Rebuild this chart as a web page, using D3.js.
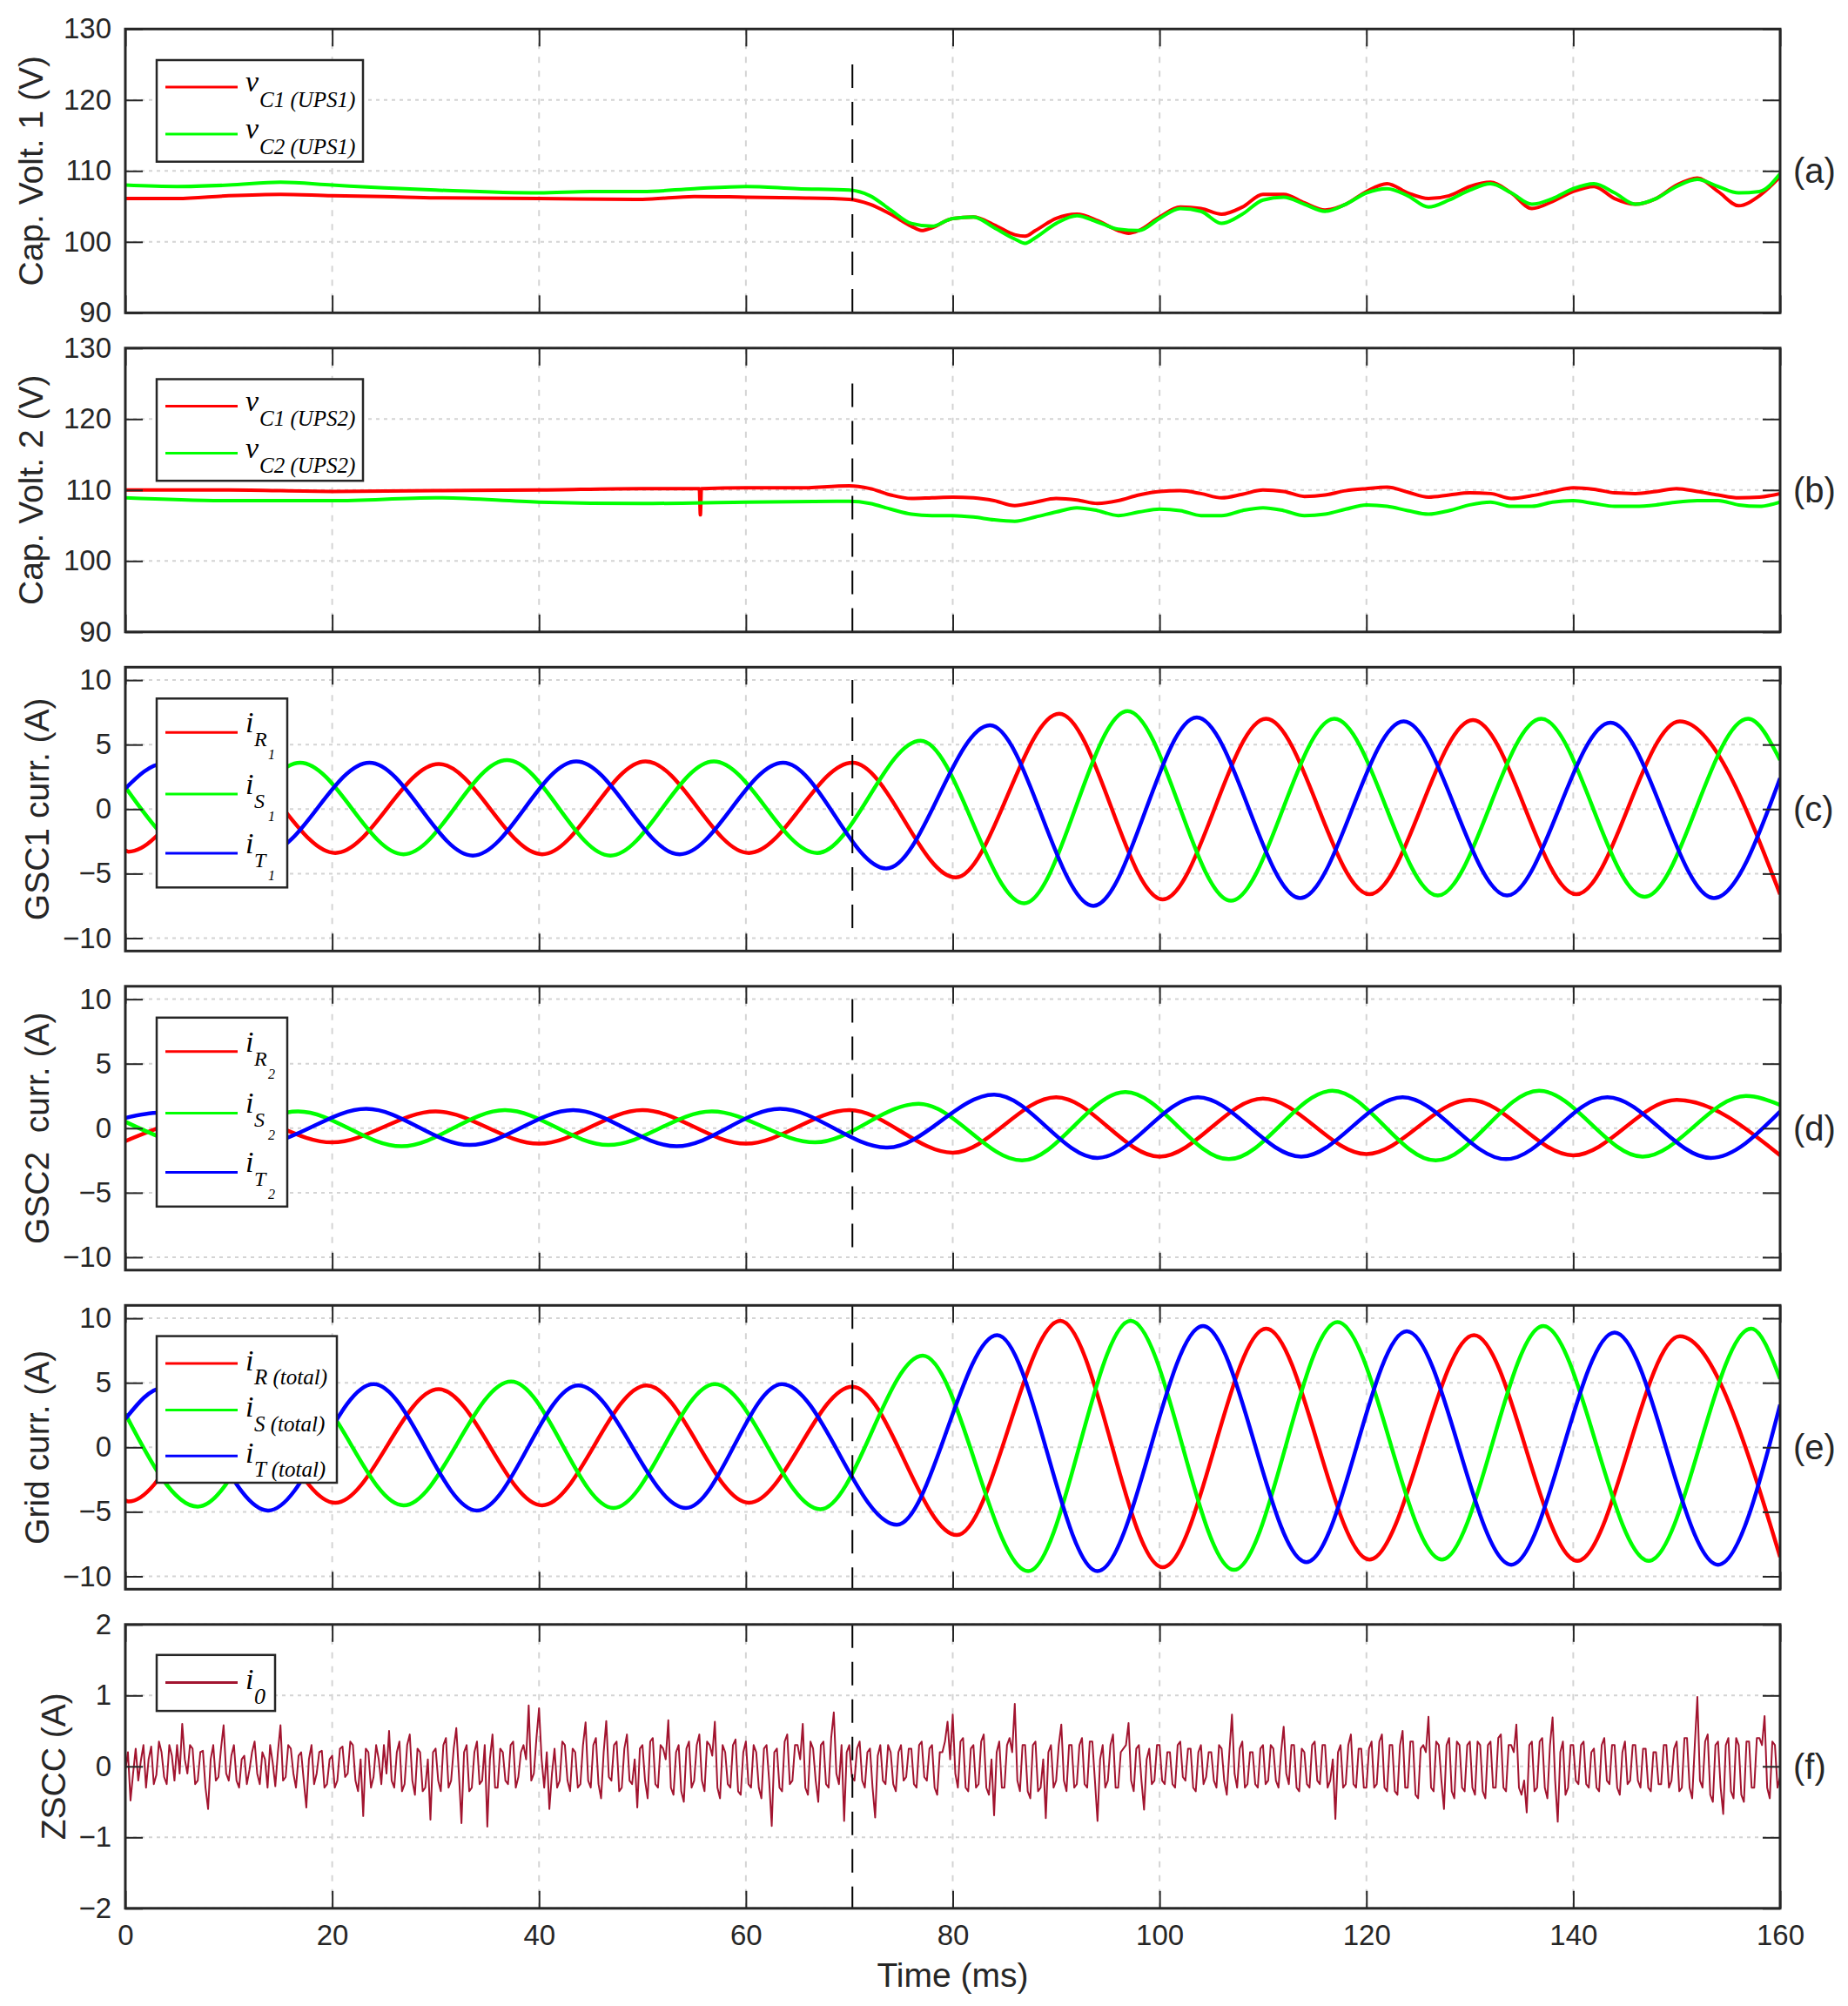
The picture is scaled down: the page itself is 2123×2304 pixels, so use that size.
<!DOCTYPE html>
<html>
<head>
<meta charset="utf-8">
<script src="https://cdn.jsdelivr.net/npm/d3@7"></script>
<style>
  body { margin: 0; background: #fff; }
  text { font-family: "Liberation Sans", Arial, Helvetica, sans-serif; fill: #262626; }
  .leg text { font-family: "Liberation Serif", "Times New Roman", serif; font-style: italic; fill: #000; }
</style>
</head>
<body>
<div id="chart"></div>
<script>
// ---- DATA ----
// time axis, ms
var timeTicks = [0, 20, 40, 60, 80, 100, 120, 140, 160]
var stepTime = 70.3   // load step -> dashed marker

// (a) capacitor voltages of UPS1, [t ms, V]
var vC1ups1 = [[0,106.1],[5,106.1],[10,106.5],[15,106.7],[20,106.5],[25,106.4],[30,106.2],[40,106.1],[50,106.0],[55,106.4],[60,106.3],[65,106.2],[70,106.0],[72,105.3],[74,103.9],[76,102.2],[77,101.6],[78,102.0],[80,103.3],[82,103.5],[84,102.4],[86,101.0],[87,100.8],[88,101.6],[90,103.3],[92,103.9],[94,103.0],[96,101.6],[97,101.2],[98,101.6],[100,103.5],[102,104.9],[104,104.7],[106,103.9],[108,104.9],[110,106.7],[112,106.7],[114,105.5],[116,104.5],[118,105.3],[120,107.1],[122,108.2],[124,106.9],[126,106.1],[128,106.5],[130,107.8],[132,108.4],[134,106.9],[136,104.7],[138,105.7],[140,107.1],[142,107.8],[144,106.1],[146,105.3],[148,106.1],[150,108.0],[152,109.0],[154,107.1],[156,105.1],[158,106.5],[160,109.2]]
var vC2ups1 = [[0,108.0],[5,107.8],[10,108.0],[15,108.4],[20,108.0],[25,107.6],[30,107.3],[40,106.9],[45,107.1],[50,107.1],[55,107.5],[60,107.8],[65,107.5],[70,107.3],[72,106.5],[74,104.5],[76,102.6],[78,102.2],[80,103.3],[82,103.5],[84,102.0],[86,100.4],[87,99.8],[88,100.6],[90,102.6],[92,103.7],[94,102.8],[96,101.8],[98,101.6],[100,103.3],[102,104.7],[104,104.3],[106,102.6],[108,103.9],[110,105.9],[112,106.3],[114,105.3],[116,104.3],[118,105.3],[120,106.9],[122,107.5],[124,106.5],[126,104.9],[128,105.9],[130,107.3],[132,108.2],[134,106.9],[136,105.3],[138,106.1],[140,107.5],[142,108.2],[144,106.9],[146,105.3],[148,106.1],[150,107.8],[152,108.8],[154,107.8],[156,106.9],[158,107.1],[160,109.6]]

// (b) capacitor voltages of UPS2, [t ms, V]
var vC1ups2 = [[0,110.0],[10,110.0],[20,109.8],[30,109.9],[40,110.0],[50,110.2],[55.5,110.2],[55.6,106.5],[55.7,110.2],[60,110.3],[65,110.3],[70,110.6],[72,110.2],[74,109.3],[76,108.8],[78,108.9],[80,109.0],[82,108.9],[84,108.5],[86,107.8],[88,108.3],[90,108.8],[92,108.6],[94,108.1],[96,108.5],[98,109.3],[100,109.8],[102,109.9],[104,109.5],[106,108.9],[108,109.4],[110,110.0],[112,109.8],[114,109.1],[116,109.3],[118,109.9],[120,110.2],[122,110.4],[124,109.7],[126,109.0],[128,109.3],[130,109.6],[132,109.5],[134,108.8],[136,109.2],[138,109.8],[140,110.3],[142,110.1],[144,109.6],[146,109.5],[148,109.8],[150,110.2],[152,109.8],[154,109.3],[156,108.9],[158,109.0],[160,109.5]]
var vC2ups2 = [[0,108.9],[10,108.5],[20,108.5],[30,108.9],[40,108.3],[50,108.1],[60,108.3],[70,108.4],[72,108.1],[74,107.3],[76,106.6],[78,106.4],[80,106.4],[82,106.2],[84,105.8],[86,105.6],[88,106.2],[90,106.9],[92,107.5],[94,107.1],[96,106.4],[98,106.9],[100,107.3],[102,107.1],[104,106.4],[106,106.4],[108,107.1],[110,107.5],[112,107.1],[114,106.4],[116,106.6],[118,107.3],[120,107.9],[122,107.7],[124,107.1],[126,106.6],[128,107.1],[130,107.9],[132,108.3],[134,107.7],[136,107.7],[138,108.3],[140,108.5],[142,108.1],[144,107.7],[146,107.7],[148,107.9],[150,108.3],[152,108.5],[154,108.5],[156,107.9],[158,107.7],[160,108.3]]

// (c) GSC1 phase currents, peaks and troughs [t ms, A]
var iR1 = [[0,-3.2],[0.3,-3.3],[10.3,3.4],[20.3,-3.4],[30.3,3.5],[40.3,-3.5],[50.3,3.7],[60.3,-3.4],[70.3,3.6],[80.3,-5.3],[90.3,7.4],[100.3,-7.0],[110.3,7.0],[120.3,-6.6],[130.3,6.9],[140.3,-6.6],[150.3,6.8],[160,-6.6]]
var iS1 = [[0,1.7],[6.9,-3.5],[16.9,3.6],[26.9,-3.5],[36.9,3.8],[46.9,-3.6],[56.9,3.7],[66.9,-3.4],[76.9,5.3],[86.9,-7.3],[96.9,7.6],[106.9,-7.1],[116.9,7.0],[126.9,-6.7],[136.9,7.0],[146.9,-6.8],[156.9,7.0],[160,3.8]]
var iT1 = [[0,1.6],[3.6,3.5],[13.6,-3.4],[23.6,3.6],[33.6,-3.6],[43.6,3.7],[53.6,-3.5],[63.6,3.6],[73.6,-4.6],[83.6,6.5],[93.6,-7.5],[103.6,7.1],[113.6,-6.9],[123.6,6.8],[133.6,-6.7],[143.6,6.7],[153.6,-6.9],[160,2.4]]

// (d) GSC2 phase currents
var iR2 = [[0,-1.0],[10,1.2],[20,-1.1],[30,1.3],[40,-1.2],[50,1.4],[60,-1.2],[70,1.4],[80,-1.9],[90,2.4],[100,-2.2],[110,2.3],[120,-2.0],[130,2.2],[140,-2.1],[150,2.2],[160,-2.1]]
var iS2 = [[0,0.5],[6.7,-1.2],[16.7,1.3],[26.7,-1.4],[36.7,1.4],[46.7,-1.3],[56.7,1.3],[66.7,-1.1],[76.7,1.9],[86.7,-2.5],[96.7,2.8],[106.7,-2.4],[116.7,2.9],[126.7,-2.5],[136.7,2.9],[146.7,-2.2],[156.7,2.5],[160,1.8]]
var iT2 = [[0,0.8],[3.3,1.2],[13.3,-1.1],[23.3,1.5],[33.3,-1.3],[43.3,1.4],[53.3,-1.4],[63.3,1.5],[73.7,-1.5],[84,2.6],[94,-2.3],[103.7,2.4],[113.7,-2.2],[123.5,2.4],[133.5,-2.4],[143.3,2.4],[153.3,-2.3],[160,1.3]]

// (e) grid currents (sum of both GSCs)
var iRtot = [[0,-4.1],[0.3,-4.2],[10.3,4.3],[20.3,-4.3],[30.3,4.5],[40.3,-4.5],[50.4,4.8],[60.3,-4.3],[70.3,4.7],[80.4,-6.8],[90.4,9.8],[100.3,-9.3],[110.3,9.2],[120.3,-8.7],[130.4,8.7],[140.4,-8.8],[150.3,8.6],[160,-8.5]]
var iStot = [[0,2.6],[7.0,-4.6],[16.9,4.7],[26.9,-4.5],[37.3,5.1],[47.2,-4.7],[57,4.9],[67.2,-4.8],[77.1,7.1],[87.3,-9.6],[97.2,9.8],[107.2,-9.5],[117.2,9.7],[127.3,-8.7],[137.1,9.4],[147.3,-8.8],[157.2,9.2],[160,5.3]]
var iTtot = [[0,2.2],[3.6,4.6],[13.8,-4.9],[24,4.9],[34,-4.9],[43.8,4.8],[54.2,-4.7],[63.5,4.9],[74.6,-6.0],[84.3,8.7],[94,-9.6],[104.2,9.4],[114.2,-8.9],[123.9,9.0],[134,-9.1],[144,8.9],[154,-9.1],[160,3.3]]

// (f) zero-sequence circulating current, one value every 0.25 ms from t = 0
var zsccStep = 0.25
var i0 = [
  -0.05,0.2,-0.48,-0.1,0.25,-0.2,0.08,0.3,-0.3,0.1,0.28,-0.25,-0.12,0.35,0.2,-0.15,-0.25,0.3,0.15,-0.2,0.3,-0.1,0.6,0.1,-0.1,0.3,0.25,-0.25,-0.2,0.2,0.22,-0.3,-0.6,0.1,0.3,-0.2,-0.15,0.25,0.58,-0.1,
  -0.2,0.15,0.3,-0.2,-0.3,0.1,0.15,-0.25,-0.05,0.2,0.35,-0.1,-0.25,0.2,0.1,-0.3,0.3,0.05,-0.28,0.2,0.58,-0.2,-0.15,0.3,0.25,-0.1,-0.3,0.15,0.2,-0.2,-0.58,0.1,0.3,-0.25,-0.1,0.2,0.22,-0.3,-0.25,0.1,
  0.15,-0.3,-0.2,0.25,0.28,-0.15,-0.1,0.35,0.3,-0.2,-0.35,0.1,-0.7,0.25,0.2,-0.3,-0.15,0.3,0.1,-0.25,0.3,-0.1,0.5,-0.2,-0.3,0.2,0.35,-0.35,-0.25,0.3,0.45,-0.2,-0.4,0.25,0.2,-0.35,-0.3,0.1,-0.75,0.2,
  0.25,-0.2,-0.35,0.3,0.4,-0.3,-0.2,0.25,0.54,-0.1,-0.8,0.2,0.3,-0.35,-0.3,0.2,0.35,-0.25,-0.2,0.3,-0.85,0.1,0.45,-0.3,-0.3,0.25,0.2,-0.2,-0.25,0.3,0.35,-0.3,-0.15,0.2,0.3,0.1,0.86,-0.2,-0.1,0.4,
  0.82,0.1,-0.3,0.2,-0.6,-0.1,0.25,-0.3,-0.2,0.35,0.3,-0.2,-0.35,0.25,0.2,-0.3,-0.25,0.3,0.62,-0.2,-0.3,0.3,0.4,-0.25,-0.45,0.2,0.64,-0.15,-0.2,0.3,0.35,-0.35,-0.3,0.25,0.45,-0.2,-0.25,0.1,-0.58,0.25,
  0.3,-0.2,-0.45,0.35,0.4,-0.25,-0.3,0.3,0.25,0.1,0.65,-0.3,-0.4,0.2,0.3,-0.35,-0.5,0.25,0.35,-0.3,-0.2,0.3,0.45,-0.2,-0.35,0.35,0.3,0.15,0.63,-0.3,-0.45,0.3,0.2,-0.25,-0.3,0.3,0.38,-0.35,-0.4,0.2,
  0.35,-0.25,-0.3,0.3,0.2,-0.3,-0.45,0.25,0.3,-0.2,-0.84,0.2,0.25,-0.3,-0.35,0.35,0.45,-0.25,-0.2,0.3,0.3,0.1,0.6,-0.3,-0.4,0.35,0.25,-0.2,-0.5,0.3,0.35,-0.25,-0.3,0.4,0.76,-0.1,-0.25,0.3,-0.77,0.2,
  0.3,-0.15,-0.2,0.25,0.35,-0.2,-0.3,0.2,0.25,-0.3,-0.72,0.15,0.3,-0.2,-0.25,0.3,0.2,-0.25,-0.35,0.2,0.3,-0.2,-0.15,0.25,0.25,-0.25,-0.3,0.3,0.35,-0.15,-0.2,0.25,0.3,-0.3,-0.4,0.2,0.2,0.35,0.63,0.1,
  0.73,-0.1,-0.3,0.35,0.4,-0.3,-0.35,0.25,0.3,-0.3,-0.25,0.35,0.45,-0.3,-0.4,0.1,-0.69,0.2,0.35,-0.3,-0.3,0.3,0.4,0.2,0.88,-0.2,-0.35,0.3,0.3,-0.35,-0.45,0.3,0.35,-0.35,-0.3,0.1,-0.73,0.2,0.3,-0.3,
  -0.2,0.3,0.59,-0.2,-0.35,0.3,0.3,-0.3,-0.25,0.3,0.4,-0.25,-0.3,0.35,0.35,-0.2,-0.77,0.1,0.3,-0.3,-0.2,0.3,0.45,-0.3,-0.3,0.2,0.25,0.3,0.61,-0.2,-0.35,0.25,0.3,-0.2,-0.61,0.1,0.25,-0.25,-0.2,0.3,
  0.3,-0.2,-0.25,0.2,0.2,-0.25,-0.3,0.3,0.35,-0.15,-0.2,0.25,0.25,-0.3,-0.35,0.2,0.3,-0.25,-0.15,0.2,0.2,-0.2,-0.3,0.3,0.25,-0.2,-0.4,0.2,0.73,-0.1,-0.3,0.25,0.35,-0.3,-0.25,0.2,0.2,-0.25,-0.3,0.25,
  0.3,-0.25,-0.2,0.3,0.25,-0.2,-0.3,0.2,0.56,-0.1,-0.25,0.3,0.3,-0.3,-0.35,0.25,0.2,-0.25,-0.3,0.3,0.35,-0.2,-0.25,0.3,0.3,-0.3,-0.2,0.1,-0.74,0.2,0.3,-0.3,-0.25,0.3,0.45,-0.25,-0.3,0.25,0.25,-0.3,
  -0.3,0.25,0.35,-0.3,-0.25,0.35,0.45,-0.3,-0.35,0.3,0.3,-0.35,-0.4,0.3,0.5,-0.3,-0.3,0.35,0.35,-0.4,-0.45,0.25,0.3,0.2,0.7,-0.3,-0.35,0.35,0.3,-0.2,-0.6,0.3,0.4,-0.35,-0.45,0.35,0.3,-0.3,-0.35,0.3,
  0.35,-0.3,-0.4,0.35,0.3,-0.35,-0.45,0.3,0.35,-0.3,-0.3,0.4,0.45,-0.3,-0.35,0.3,0.3,0.2,0.59,-0.3,-0.4,-0.2,-0.65,0.3,0.35,-0.35,-0.3,0.35,0.4,-0.3,-0.45,0.3,0.69,-0.2,-0.78,0.2,0.35,-0.4,-0.3,0.3,
  0.3,-0.2,-0.25,0.3,0.35,-0.25,-0.3,0.2,0.25,-0.3,-0.35,0.3,0.4,-0.2,-0.25,0.3,0.3,-0.3,-0.4,0.2,0.35,-0.25,-0.2,0.3,0.3,-0.2,-0.3,0.25,0.25,-0.3,-0.35,0.2,0.2,-0.25,-0.25,0.3,0.3,-0.3,-0.2,0.25,
  0.35,-0.35,-0.3,0.4,0.4,-0.3,-0.45,0.3,0.98,-0.2,-0.3,0.35,0.45,-0.4,-0.5,0.3,0.35,-0.3,-0.67,0.3,0.4,-0.35,-0.45,0.4,0.3,-0.4,-0.5,0.35,0.35,-0.3,-0.3,0.4,0.4,0.3,0.71,-0.3,-0.45,0.35,0.3,-0.3,-0.15]

// y-axis ticks
var voltTicks = [90, 100, 110, 120, 130]
var currTicks = [-10, -5, 0, 5, 10]
var zsccTicks = [-2, -1, 0, 1, 2]

// ---- LAYOUT ----
var W = 2123, H = 2304
var plotLeft = 144, plotRight = 2045
var panelTop = 33.3, panelGap = 366.5, panelH = 326
var red = "#ff0000", green = "#00ff00", blue = "#0000ff", wine = "#a2142f"

// legend layouts (offsets are relative to the panel top)
var legTwo = { w: 237, top: 35.7, h: 116.7, rows: [31, 85], mainDy: 5, subX: 298, subDy: 22.7, subSize: 25, subsubDy: 0 }
var legPhase = { w: 150, top: 36, h: 217, rows: [39, 109.6, 177.6], mainDy: 0, subX: 292, subDy: 16, subSize: 24, subsubDy: 31 }
var legTot = { w: 207, top: 35.3, h: 168.4, rows: [31.4, 85, 137.7], mainDy: 7.6, subX: 292, subDy: 24, subSize: 25, subsubDy: 0 }
var legOne = { w: 136, top: 35, h: 64.3, rows: [31.6], mainDy: 8, subX: 292, subDy: 24.5, subSize: 26, subsubDy: 0 }

var panels = [
  { tag: "a", ylabel: "Cap. Volt. 1 (V)", domain: [90, 130], ticks: voltTicks, labelX: 49, step: [90, 125], leg: legTwo, lw: 4,
    series: [ { values: vC1ups1, color: red, main: "v", sub: "C1 (UPS1)" },
              { values: vC2ups1, color: green, main: "v", sub: "C2 (UPS1)" } ] },
  { tag: "b", ylabel: "Cap. Volt. 2 (V)", domain: [90, 130], ticks: voltTicks, labelX: 49, step: [90, 125], leg: legTwo, lw: 4,
    series: [ { values: vC1ups2, color: red, main: "v", sub: "C1 (UPS2)" },
              { values: vC2ups2, color: green, main: "v", sub: "C2 (UPS2)" } ] },
  { tag: "c", ylabel: "GSC1 curr. (A)", domain: [-11, 11], ticks: currTicks, labelX: 56, step: [-10, 10], leg: legPhase, lw: 4.5,
    series: [ { values: iR1, color: red, main: "i", sub: "R", subsub: "1" },
              { values: iS1, color: green, main: "i", sub: "S", subsub: "1" },
              { values: iT1, color: blue, main: "i", sub: "T", subsub: "1" } ] },
  { tag: "d", ylabel: "GSC2  curr. (A)", domain: [-11, 11], ticks: currTicks, labelX: 56, step: [-10, 10], leg: legPhase, lw: 4.5,
    series: [ { values: iR2, color: red, main: "i", sub: "R", subsub: "2" },
              { values: iS2, color: green, main: "i", sub: "S", subsub: "2" },
              { values: iT2, color: blue, main: "i", sub: "T", subsub: "2" } ] },
  { tag: "e", ylabel: "Grid curr. (A)", domain: [-11, 11], ticks: currTicks, labelX: 56, step: [-11, 11], leg: legTot, lw: 4.5,
    series: [ { values: iRtot, color: red, main: "i", sub: "R (total)" },
              { values: iStot, color: green, main: "i", sub: "S (total)" },
              { values: iTtot, color: blue, main: "i", sub: "T (total)" } ] },
  { tag: "f", ylabel: "ZSCC (A)", domain: [-2, 2], ticks: zsccTicks, labelX: 75, step: [-2, 2], leg: legOne, lw: 2, linear: true,
    series: [ { values: i0.map(function(v, k) { return [k * zsccStep, v] }), color: wine, main: "i", sub: "0" } ] }
]

var svg = d3.select("#chart").append("svg")
  .attr("width", W)
  .attr("height", H)
  .style("background", "#fff")

var defs = svg.append("defs")

var x = d3.scaleLinear().domain([0, 160]).range([plotLeft, plotRight])

panels.forEach(function(p, i) {
  var top = panelTop + i * panelGap
  var y = d3.scaleLinear().domain(p.domain).range([top + panelH, top])
  var g = svg.append("g").attr("class", "panel-" + p.tag)

  defs.append("clipPath").attr("id", "clip-" + p.tag)
    .append("rect")
    .attr("x", plotLeft).attr("y", top)
    .attr("width", plotRight - plotLeft).attr("height", panelH)

  // dotted grid
  g.selectAll(".hgrid").data(p.ticks).enter().append("line")
    .attr("x1", plotLeft).attr("x2", plotRight)
    .attr("y1", function(d) { return y(d) }).attr("y2", function(d) { return y(d) })
    .attr("stroke", "#d4d4d4").attr("stroke-width", 2).attr("stroke-dasharray", "4,5")
  g.selectAll(".vgrid").data(timeTicks.slice(1, -1)).enter().append("line")
    .attr("x1", function(d) { return x(d) }).attr("x2", function(d) { return x(d) })
    .attr("y1", top).attr("y2", top + panelH)
    .attr("stroke", "#d4d4d4").attr("stroke-width", 2).attr("stroke-dasharray", "7,9")

  // waveforms
  var line = d3.line()
    .x(function(d) { return x(d[0]) })
    .y(function(d) { return y(d[1]) })
    .curve(p.linear ? d3.curveLinear : d3.curveMonotoneX)

  g.append("g").attr("clip-path", "url(#clip-" + p.tag + ")")
    .selectAll("path").data(p.series).enter().append("path")
    .attr("d", function(s) { return line(s.values) })
    .attr("fill", "none")
    .attr("stroke", function(s) { return s.color })
    .attr("stroke-width", p.lw)
    .attr("stroke-linejoin", "round")

  // load step marker
  g.append("line")
    .attr("x1", x(stepTime)).attr("x2", x(stepTime))
    .attr("y1", y(p.step[1])).attr("y2", y(p.step[0]))
    .attr("stroke", "#000").attr("stroke-width", 2)
    .attr("stroke-dasharray", "27,16")
    .attr("clip-path", "url(#clip-" + p.tag + ")")

  // inward ticks on all four sides
  var tickCol = "#262626"
  var left = g.append("g").attr("transform", "translate(" + plotLeft + ",0)")
    .call(d3.axisLeft(y).tickValues(p.ticks).tickSize(-20).tickPadding(16).tickFormat(d3.format("d")))
  var right = g.append("g").attr("transform", "translate(" + plotRight + ",0)")
    .call(d3.axisRight(y).tickValues(p.ticks).tickSize(-20).tickFormat(""))
  var topAx = g.append("g").attr("transform", "translate(0," + top + ")")
    .call(d3.axisTop(x).tickValues(timeTicks).tickSize(-20).tickFormat(""))
  var bottom = g.append("g").attr("transform", "translate(0," + (top + panelH) + ")")
    .call(d3.axisBottom(x).tickValues(timeTicks).tickSize(-20).tickPadding(19)
      .tickFormat(i === panels.length - 1 ? d3.format("d") : ""))
  ;[left, right, topAx, bottom].forEach(function(ax) {
    ax.select(".domain").remove()
    ax.selectAll(".tick line").attr("stroke", tickCol).attr("stroke-width", 2)
    ax.selectAll(".tick text")
      .attr("font-size", 33)
      .attr("fill", tickCol)
      .style("font-family", '"Liberation Sans", Arial, sans-serif')
  })

  // frame
  g.append("rect")
    .attr("x", plotLeft).attr("y", top)
    .attr("width", plotRight - plotLeft).attr("height", panelH)
    .attr("fill", "none").attr("stroke", "#262626").attr("stroke-width", 3)

  // y label
  g.append("text")
    .attr("transform", "translate(" + p.labelX + "," + (top + panelH / 2) + ") rotate(-90)")
    .attr("text-anchor", "middle")
    .attr("font-size", 39)
    .style("white-space", "pre")
    .text(p.ylabel)

  // panel letter on the right
  g.append("text")
    .attr("x", 2060)
    .attr("y", top + panelH / 2 + 14)
    .attr("font-size", 40)
    .attr("fill", "#000")
    .text("(" + p.tag + ")")

  // legend box
  var L = p.leg
  var lg = g.append("g").attr("class", "leg")
  lg.append("rect")
    .attr("x", 180).attr("y", top + L.top)
    .attr("width", L.w).attr("height", L.h)
    .attr("fill", "#fff").attr("stroke", "#262626").attr("stroke-width", 2.5)

  p.series.forEach(function(s, k) {
    var ly = top + L.top + L.rows[k]
    lg.append("line")
      .attr("x1", 190).attr("x2", 273)
      .attr("y1", ly).attr("y2", ly)
      .attr("stroke", s.color).attr("stroke-width", 3)
    // symbol + subscripts as one text with tspans
    var t = lg.append("text").style("white-space", "pre")
    t.append("tspan")
      .attr("x", 282).attr("y", ly + L.mainDy)
      .attr("font-size", 34)
      .text(s.main)
    t.append("tspan")
      .attr("x", L.subX).attr("y", ly + L.subDy)
      .attr("font-size", L.subSize)
      .text(s.sub)
    if (s.subsub) {
      t.append("tspan")
        .attr("x", 308).attr("y", ly + L.subsubDy)
        .attr("font-size", 16)
        .text(s.subsub)
    }
  })
})

// x label under the last panel
svg.append("text")
  .attr("x", (plotLeft + plotRight) / 2)
  .attr("y", 2282)
  .attr("text-anchor", "middle")
  .attr("font-size", 39)
  .text("Time (ms)")
</script>
</body>
</html>
